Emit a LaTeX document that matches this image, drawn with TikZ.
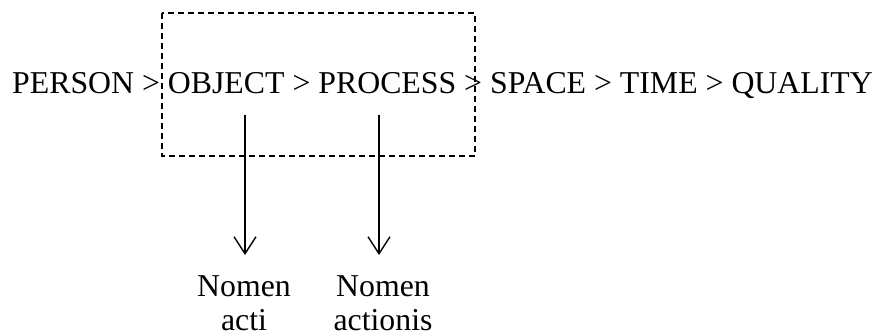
\documentclass[tikz,border=0pt]{standalone}
\usepackage{fontspec}
\setmainfont{Liberation Serif}
\usetikzlibrary{arrows.meta,positioning}

\begin{document}
\begin{tikzpicture}[
        x=1pt, y=-1pt,
        chain text/.style={font=\fontsize{31.8}{35}\selectfont, inner sep=0pt},
        noun label/.style={font=\fontsize{31.8}{34.5}\selectfont, align=center, inner sep=0pt, anchor=north},
        dashed box/.style={line width=1.3pt, dash pattern=on 6pt off 4pt},
        down arrow/.style={line width=1.4pt, -{Straight Barb[length=17pt,width=22pt,line width=1.4pt]}}
    ]
        \useasboundingbox (0,0) rectangle (882,336);
        % Hierarchy line
        \node[chain text, anchor=base west] (hier) at (12,94) {PERSON > OBJECT > PROCESS > SPACE > TIME > QUALITY};
        % Dashed frame round OBJECT and PROCESS
        \draw[dashed box] (162,13) rectangle (475,156);
        \coordinate (objfoot) at (245,115);
        \coordinate (procfoot) at (379,115);
        % Nominalisations
        \node[noun label] (acti) at (244,275) {Nomen\\acti};
        \node[noun label] (actionis) at (383,275) {Nomen\\actionis};
        \draw[down arrow, shorten >=20pt] (objfoot) -- (objfoot |- acti.north);
        \draw[down arrow, shorten >=20pt] (procfoot) -- (procfoot |- actionis.north);
    \end{tikzpicture}
\end{document}
